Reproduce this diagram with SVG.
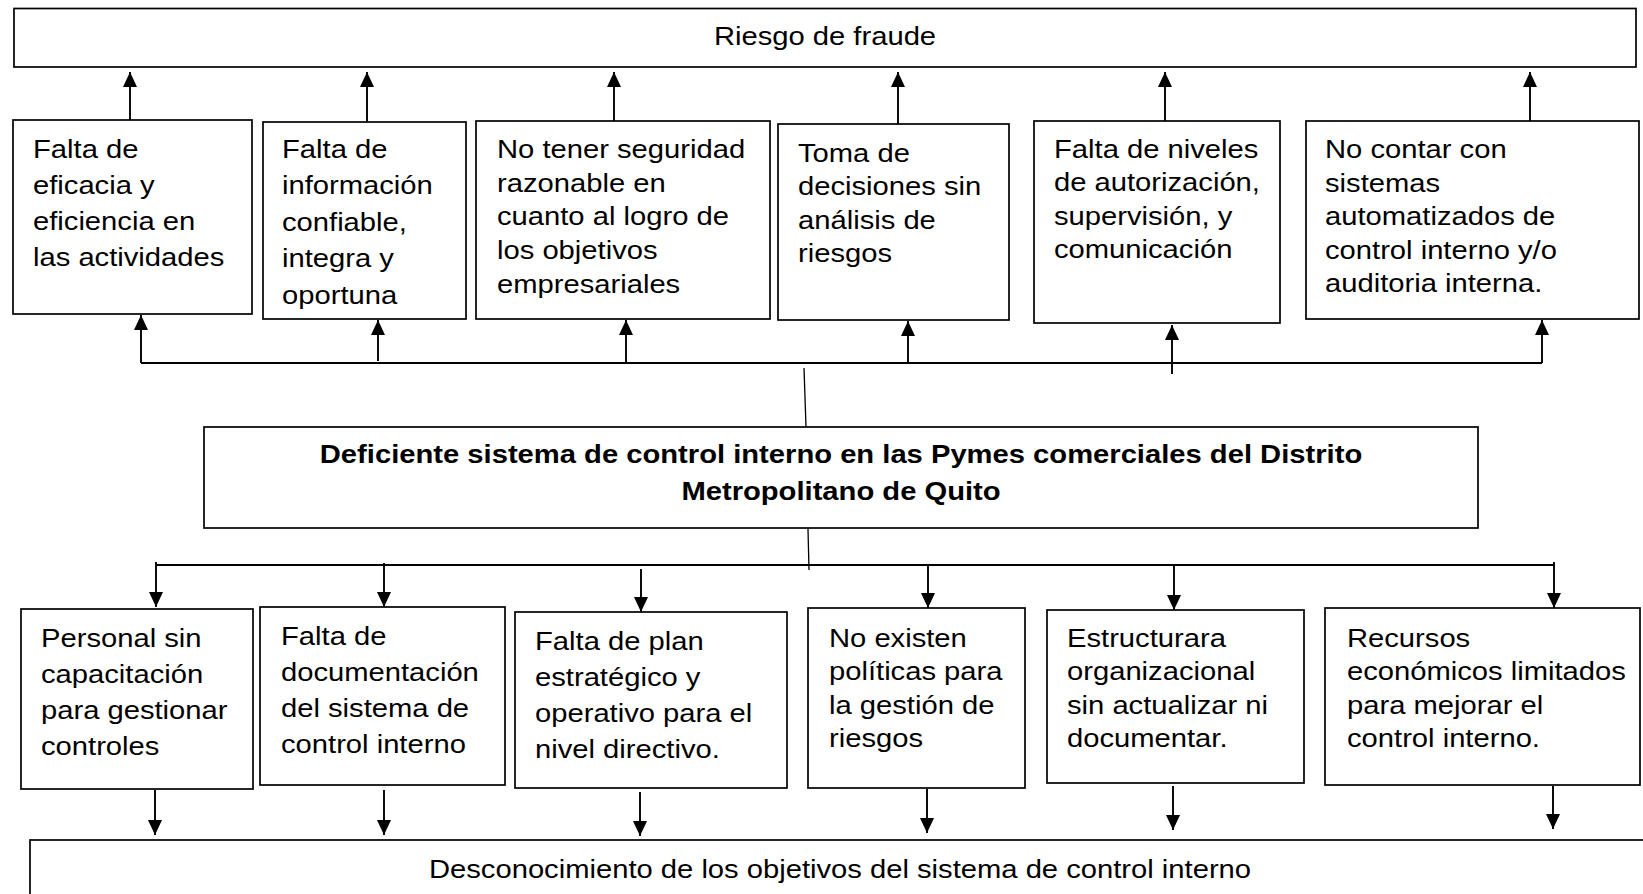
<svg xmlns="http://www.w3.org/2000/svg" width="1643" height="894" viewBox="0 0 1643 894">
<style>
.box{fill:#fff;stroke:#000;stroke-width:1.7}
.ln{fill:none;stroke:#000;stroke-width:1.9}
.ar{fill:none;stroke:#000;stroke-width:1.9;marker-end:url(#ah)}
.t{font-family:"Liberation Sans",Arial,sans-serif;font-size:25.6px;fill:#000}
.b{font-weight:bold}
</style>
<defs>
<marker id="ah" viewBox="0 0 15 14" refX="15" refY="7" markerWidth="15" markerHeight="14" markerUnits="userSpaceOnUse" orient="auto">
<path d="M0,0 L15,7 L0,14 z" fill="#000"/>
</marker>
</defs>
<rect width="1643" height="894" fill="#fff"/>

<g id="riesgo">
<rect class="box" x="14" y="8.5" width="1622" height="58.5"/>
<text class="t" text-anchor="middle" transform="translate(825,45) scale(1.14,1)">Riesgo de fraude</text>
</g>

<g id="e1">
<rect class="box" x="13" y="120" width="239" height="194"/>
<text class="t" transform="translate(33,158) scale(1.14,1)"><tspan x="0">Falta de</tspan><tspan x="0" dy="36">eficacia y</tspan><tspan x="0" dy="36">eficiencia en</tspan><tspan x="0" dy="36">las actividades</tspan></text>
</g>
<g id="e2">
<rect class="box" x="263" y="122" width="203" height="197"/>
<text class="t" transform="translate(282,158) scale(1.14,1)"><tspan x="0">Falta de</tspan><tspan x="0" dy="36.5">información</tspan><tspan x="0" dy="36.5">confiable,</tspan><tspan x="0" dy="36.5">integra y</tspan><tspan x="0" dy="36.5">oportuna</tspan></text>
</g>
<g id="e3">
<rect class="box" x="476" y="121" width="294" height="198"/>
<text class="t" transform="translate(497,158) scale(1.14,1)"><tspan x="0">No tener seguridad</tspan><tspan x="0" dy="33.7">razonable en</tspan><tspan x="0" dy="33.7">cuanto al logro de</tspan><tspan x="0" dy="33.7">los objetivos</tspan><tspan x="0" dy="33.7">empresariales</tspan></text>
</g>
<g id="e4">
<rect class="box" x="778" y="124" width="231" height="196"/>
<text class="t" transform="translate(798,162) scale(1.14,1)"><tspan x="0">Toma de</tspan><tspan x="0" dy="33.5">decisiones sin</tspan><tspan x="0" dy="33.5">análisis de</tspan><tspan x="0" dy="33.5">riesgos</tspan></text>
</g>
<g id="e5">
<rect class="box" x="1034" y="121" width="246" height="202"/>
<text class="t" transform="translate(1054,158) scale(1.14,1)"><tspan x="0">Falta de niveles</tspan><tspan x="0" dy="33.3">de autorización,</tspan><tspan x="0" dy="33.3">supervisión, y</tspan><tspan x="0" dy="33.3">comunicación</tspan></text>
</g>
<g id="e6">
<rect class="box" x="1306" y="121" width="333" height="198"/>
<text class="t" transform="translate(1325,158) scale(1.14,1)"><tspan x="0">No contar con</tspan><tspan x="0" dy="33.6">sistemas</tspan><tspan x="0" dy="33.6">automatizados de</tspan><tspan x="0" dy="33.6">control interno y/o</tspan><tspan x="0" dy="33.6">auditoria interna.</tspan></text>
</g>

<g id="problema">
<rect class="box" x="204" y="427" width="1274" height="101"/>
<text class="t b" text-anchor="middle" transform="translate(841,463) scale(1.14,1)"><tspan x="0">Deficiente sistema de control interno en las Pymes comerciales del Distrito</tspan><tspan x="0" dy="37">Metropolitano de Quito</tspan></text>
</g>

<g id="c1">
<rect class="box" x="21" y="609" width="232" height="180"/>
<text class="t" transform="translate(41,647) scale(1.14,1)"><tspan x="0">Personal sin</tspan><tspan x="0" dy="36">capacitación</tspan><tspan x="0" dy="36">para gestionar</tspan><tspan x="0" dy="36">controles</tspan></text>
</g>
<g id="c2">
<rect class="box" x="260" y="607" width="245" height="178"/>
<text class="t" transform="translate(281,645) scale(1.14,1)"><tspan x="0">Falta de</tspan><tspan x="0" dy="36">documentación</tspan><tspan x="0" dy="36">del sistema de</tspan><tspan x="0" dy="36">control interno</tspan></text>
</g>
<g id="c3">
<rect class="box" x="515" y="612" width="272" height="176"/>
<text class="t" transform="translate(535,650) scale(1.14,1)"><tspan x="0">Falta de plan</tspan><tspan x="0" dy="36">estratégico y</tspan><tspan x="0" dy="36">operativo para el</tspan><tspan x="0" dy="36">nivel directivo.</tspan></text>
</g>
<g id="c4">
<rect class="box" x="808" y="608" width="217" height="180"/>
<text class="t" transform="translate(829,647) scale(1.14,1)"><tspan x="0">No existen</tspan><tspan x="0" dy="33.3">políticas para</tspan><tspan x="0" dy="33.3">la gestión de</tspan><tspan x="0" dy="33.3">riesgos</tspan></text>
</g>
<g id="c5">
<rect class="box" x="1047" y="610" width="257" height="173"/>
<text class="t" transform="translate(1067,647) scale(1.14,1)"><tspan x="0">Estructurara</tspan><tspan x="0" dy="33.3">organizacional</tspan><tspan x="0" dy="33.3">sin actualizar ni</tspan><tspan x="0" dy="33.3">documentar.</tspan></text>
</g>
<g id="c6">
<rect class="box" x="1325" y="608" width="315" height="177"/>
<text class="t" transform="translate(1347,647) scale(1.14,1)"><tspan x="0">Recursos</tspan><tspan x="0" dy="33.3">económicos limitados</tspan><tspan x="0" dy="33.3">para mejorar el</tspan><tspan x="0" dy="33.3">control interno.</tspan></text>
</g>

<g id="desconocimiento">
<rect class="box" x="30" y="840" width="1640" height="100"/>
<text class="t" text-anchor="middle" transform="translate(840,878) scale(1.14,1)">Desconocimiento de los objetivos del sistema de control interno</text>
</g>

<g id="connectors">
<line class="ar" x1="130" y1="120" x2="130" y2="72"/>
<line class="ar" x1="367" y1="122" x2="367" y2="72"/>
<line class="ar" x1="614" y1="121" x2="614" y2="72"/>
<line class="ar" x1="898" y1="124" x2="898" y2="72"/>
<line class="ar" x1="1165" y1="121" x2="1165" y2="72"/>
<line class="ar" x1="1530" y1="121" x2="1530" y2="72"/>

<line class="ln" x1="141" y1="363" x2="1542" y2="363"/>
<line class="ar" x1="141" y1="363" x2="141" y2="315"/>
<line class="ar" x1="378" y1="361" x2="378" y2="320"/>
<line class="ar" x1="626" y1="363" x2="626" y2="320"/>
<line class="ar" x1="908" y1="363" x2="908" y2="321"/>
<line class="ar" x1="1172" y1="374" x2="1172" y2="325"/>
<line class="ar" x1="1542" y1="363" x2="1542" y2="320"/>
<line class="ln" style="stroke-width:1.3" x1="804" y1="368" x2="806" y2="427"/>

<line class="ln" style="stroke-width:1.3" x1="808" y1="529" x2="809" y2="570"/>
<line class="ln" x1="156" y1="565" x2="1555" y2="565"/>
<line class="ar" x1="156" y1="562" x2="156" y2="607"/>
<line class="ar" x1="384" y1="563" x2="384" y2="607"/>
<line class="ar" x1="641" y1="569" x2="641" y2="612"/>
<line class="ar" x1="928" y1="565" x2="928" y2="608"/>
<line class="ar" x1="1174" y1="565" x2="1174" y2="610"/>
<line class="ar" x1="1554" y1="562" x2="1554" y2="608"/>

<line class="ar" x1="155" y1="790" x2="155" y2="835"/>
<line class="ar" x1="384" y1="790" x2="384" y2="835"/>
<line class="ar" x1="640" y1="792" x2="640" y2="836"/>
<line class="ar" x1="927" y1="789" x2="927" y2="833"/>
<line class="ar" x1="1173" y1="786" x2="1173" y2="830"/>
<line class="ar" x1="1553" y1="786" x2="1553" y2="829"/>
</g>
</svg>
